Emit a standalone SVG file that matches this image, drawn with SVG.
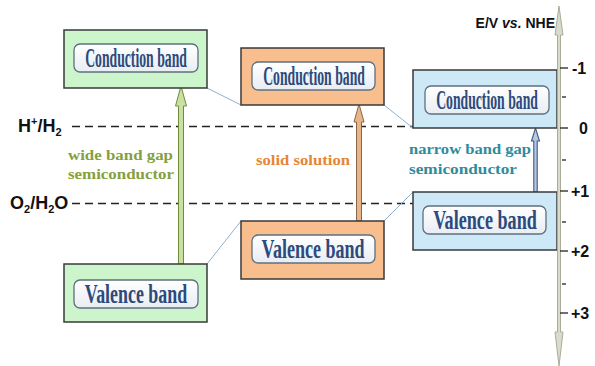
<svg xmlns="http://www.w3.org/2000/svg" width="595" height="366" viewBox="0 0 595 366">
<defs>
<linearGradient id="inner" x1="0" y1="0" x2="0" y2="1">
<stop offset="0" stop-color="#ffffff"/>
<stop offset="1" stop-color="#e8edf3"/>
</linearGradient>
</defs>
<style>
.outer{stroke:#3a3a3a;stroke-width:1.5}
.g{fill:#ccf5cc}
.o{fill:#f8be8e}
.b{fill:#cde9f8}
.inner{fill:url(#inner);stroke:#5f6f7f;stroke-width:1.3}
.bt{font-family:"Liberation Serif",serif;font-weight:bold;font-size:27px;fill:#2c4a7c;text-anchor:middle}
.lbl{font-family:"Liberation Serif",serif;font-weight:bold;font-size:15px}
.ax{font-family:"Liberation Sans",Arial,sans-serif;font-weight:bold;fill:#111}
.dash{stroke:#222;stroke-width:1.6;stroke-dasharray:8 5;fill:none}
.link{stroke:#8fb0cf;stroke-width:1;fill:none}
.tick{stroke:#222;stroke-width:1.3}
</style>

<g id="levels">
<line class="dash" x1="72" y1="126.5" x2="557" y2="126.5"/>
<line class="dash" x1="72" y1="203.5" x2="413" y2="203.5"/>
<text class="ax" x="18" y="132" font-size="18">H<tspan font-size="11" dy="-7">+</tspan><tspan dy="7">/H</tspan><tspan font-size="11" dy="4">2</tspan></text>
<text class="ax" x="10" y="209" font-size="18">O<tspan font-size="11" dy="4">2</tspan><tspan dy="-4">/H</tspan><tspan font-size="11" dy="4">2</tspan><tspan dy="-4">O</tspan></text>
</g>

<g id="connectors">
<line class="link" x1="207" y1="88" x2="241" y2="105"/>
<line class="link" x1="384" y1="105" x2="413" y2="128"/>
<line class="link" x1="207" y1="264" x2="241" y2="221"/>
<line class="link" x1="384" y1="221" x2="413" y2="192"/>
<path d="M178.5,264 V106 H175.5 L181,86 L186.5,106 H183.5 V264 Z" fill="#c9e0a3" stroke="#6f8c3c" stroke-width="1"/>
<path d="M356.5,221 V122 H354 L359,104 L364,122 H361.5 V221 Z" fill="#e8b588" stroke="#8a6648" stroke-width="1"/>
<path d="M533.8,192 V141 H531.5 L535.5,128 L539.5,141 H537.2 V192 Z" fill="#b8c8e0" stroke="#3e5784" stroke-width="1.1"/>
</g>

<g id="wide-cb">
<rect class="outer g" x="64" y="30" width="143" height="58"/>
<rect class="inner" x="74" y="44" width="124" height="28" rx="6"/>
<text class="bt" transform="translate(136,67) scale(0.53,1)" textLength="192" lengthAdjust="spacingAndGlyphs">Conduction band</text>
</g>
<g id="wide-vb">
<rect class="outer g" x="64" y="264" width="143" height="58"/>
<rect class="inner" x="74" y="280" width="124" height="28" rx="6"/>
<text class="bt" transform="translate(136,303) scale(0.66,1)" textLength="155" lengthAdjust="spacingAndGlyphs">Valence band</text>
</g>
<g id="ss-cb">
<rect class="outer o" x="241" y="48" width="143" height="57"/>
<rect class="inner" x="252" y="62" width="123" height="28" rx="6"/>
<text class="bt" transform="translate(314,85) scale(0.53,1)" textLength="192" lengthAdjust="spacingAndGlyphs">Conduction band</text>
</g>
<g id="ss-vb">
<rect class="outer o" x="241" y="221" width="143" height="58"/>
<rect class="inner" x="252" y="235" width="123" height="28" rx="6"/>
<text class="bt" transform="translate(313,258) scale(0.66,1)" textLength="156" lengthAdjust="spacingAndGlyphs">Valence band</text>
</g>
<g id="narrow-cb">
<rect class="outer b" x="413" y="70" width="144" height="58"/>
<rect class="inner" x="425" y="86" width="124" height="28" rx="6"/>
<text class="bt" transform="translate(487,109) scale(0.53,1)" textLength="192" lengthAdjust="spacingAndGlyphs">Conduction band</text>
</g>
<g id="narrow-vb">
<rect class="outer b" x="413" y="192" width="144" height="58"/>
<rect class="inner" x="423" y="206" width="123" height="28" rx="6"/>
<text class="bt" transform="translate(485,229) scale(0.66,1)" textLength="157" lengthAdjust="spacingAndGlyphs">Valence band</text>
</g>

<g id="labels">
<text class="lbl" x="68" y="160" fill="#86a040" textLength="105" lengthAdjust="spacingAndGlyphs">wide band gap</text>
<text class="lbl" x="68" y="179" fill="#86a040" textLength="106" lengthAdjust="spacingAndGlyphs">semiconductor</text>
<text class="lbl" x="256" y="165" fill="#e58535" textLength="94" lengthAdjust="spacingAndGlyphs">solid solution</text>
<text class="lbl" x="409" y="154" fill="#2f8c9c" textLength="122" lengthAdjust="spacingAndGlyphs">narrow band gap</text>
<text class="lbl" x="409" y="174" fill="#2f8c9c" textLength="108" lengthAdjust="spacingAndGlyphs">semiconductor</text>
</g>

<g id="axis">
<path d="M557.5,35 L555,35 L559,6 L563,35 L560.5,35 L560.5,332 L563,332 L559,366 L555,332 L557.5,332 Z" fill="#d9dccb" stroke="#a9ad98" stroke-width="1"/>
<line class="tick" x1="560" y1="68" x2="568" y2="68"/>
<line class="tick" x1="560" y1="128" x2="568" y2="128"/>
<line class="tick" x1="560" y1="191" x2="568" y2="191"/>
<line class="tick" x1="560" y1="251" x2="568" y2="251"/>
<line class="tick" x1="560" y1="313" x2="568" y2="313"/>
<line class="tick" x1="562" y1="97" x2="566" y2="97"/>
<line class="tick" x1="562" y1="160" x2="566" y2="160"/>
<line class="tick" x1="562" y1="222" x2="566" y2="222"/>
<line class="tick" x1="562" y1="284" x2="566" y2="284"/>
<text class="ax" x="572" y="74" font-size="16">-1</text>
<text class="ax" x="579" y="134" font-size="16">0</text>
<text class="ax" x="571" y="197" font-size="16">+1</text>
<text class="ax" x="571" y="257" font-size="16">+2</text>
<text class="ax" x="571" y="319" font-size="16">+3</text>
<text class="ax" x="555" y="28" font-size="14" text-anchor="end">E/V <tspan font-style="italic">vs.</tspan> NHE</text>
</g>
</svg>
